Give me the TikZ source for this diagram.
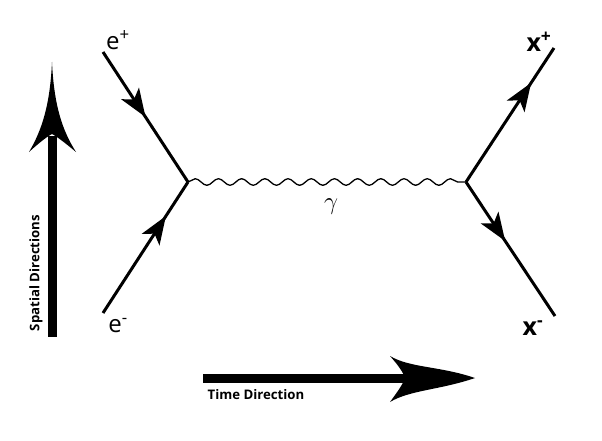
\documentclass[tikz,border=0pt]{standalone}
\usepackage{fontspec}
\setmainfont{Open Sans}
\usetikzlibrary{arrows.meta,decorations.markings,decorations.pathmorphing}
\begin{document}
\begin{tikzpicture}[x=1pt,y=-1pt,
  fermion/.style={line width=3pt,
    postaction={decorate,decoration={markings,
      mark=at position #1 with {\arrow{Stealth[length=28pt,width=21pt,inset=7pt]}}}}},
  photon/.style={line width=1.3pt,decorate,
    decoration={snake,segment length=23.2pt,amplitude=3.3pt}},
  lbl/.style={font=\fontsize{24}{24}\selectfont,inner sep=0pt},
  blbl/.style={font=\fontsize{25}{25}\selectfont\bfseries,inner sep=0pt},
  axlbl/.style={font=\fontsize{13.2}{13.2}\selectfont\bfseries,inner sep=0pt},
  bigarrow/.style={fill=black,draw=none}]
\useasboundingbox (0,0) rectangle (602,441);
\fill[white] (0,0) rectangle (602,441);
% vertices and endpoints
\coordinate (vL) at (188,182);
\coordinate (vR) at (466,182);
\coordinate (ep) at (103,52);
\coordinate (em) at (103,313);
\coordinate (xp) at (554,48);
\coordinate (xm) at (555,316);
% fermion lines
\draw[fermion=0.5] (ep) -- (vL);
\draw[fermion=0.74] (em) -- (vL);
\draw[fermion=0.74] (vR) -- (xp);
\draw[fermion=0.44] (vR) -- (xm);
% photon
\draw[photon] (vL) -- (vR);
% labels
\node[lbl] (lep) at (118,40) {e\textsuperscript{+}};
\node[lbl] (lem) at (118,326) {e\textsuperscript{-}};
\node[blbl] (lxp) at (539,42) {x\textsuperscript{+}};
\node[blbl] (lxm) at (533,328) {x\textsuperscript{-}};
\node[inner sep=0pt,font=\fontsize{24}{24}\selectfont] (gam) at (331,207) {$\gamma$};
% spatial arrow
\fill[bigarrow] (47.5,337) rectangle (56.5,136);
\fill[bigarrow] (52,62) .. controls (50,105) and (42,130) .. (29,152)
  .. controls (40,142) and (48,136) .. (52,134)
  .. controls (56,136) and (64,142) .. (76,152)
  .. controls (62,130) and (54,105) .. (52,62) -- cycle;
\node[axlbl,rotate=90] (sp) at (36,273) {Spatial Directions};
% time arrow
\fill[bigarrow] (203,373.5) rectangle (410,382.5);
\fill[bigarrow] (475,378) .. controls (440,366) and (410,368) .. (390,356)
  .. controls (398,365) and (403,372) .. (405,378)
  .. controls (403,384) and (398,391) .. (390,402)
  .. controls (410,390) and (440,390) .. (475,378) -- cycle;
\node[axlbl] (tm) at (256,395) {Time Direction};
\end{tikzpicture}
\end{document}
